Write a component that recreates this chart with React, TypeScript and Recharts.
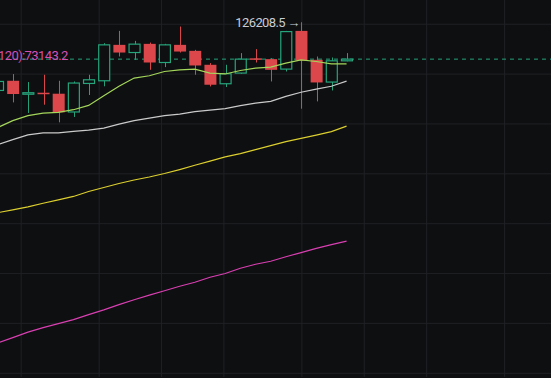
import { ComposedChart, Bar, Line, XAxis, YAxis, ReferenceLine, ReferenceDot } from 'recharts'

// weekly candles, BTC, log price scale
const weeks = [
  '2025-05-19', '2025-05-26', '2025-06-02', '2025-06-09', '2025-06-16', '2025-06-23', '2025-06-30',
  '2025-07-07', '2025-07-14', '2025-07-21', '2025-07-28', '2025-08-04', '2025-08-11', '2025-08-18',
  '2025-08-25', '2025-09-01', '2025-09-08', '2025-09-15', '2025-09-22', '2025-09-29', '2025-10-06',
  '2025-10-13', '2025-10-20', '2025-10-27', '2025-11-03', '2025-11-10', '2025-11-17', '2025-11-24',
  '2025-12-01', '2025-12-08', '2025-12-15', '2025-12-22', '2025-12-29', '2026-01-05', '2026-01-12',
  '2026-01-19', '2026-01-26',
]
const monthTicks = ['2025-06-02', '2025-07-07', '2025-08-04', '2025-09-01', '2025-10-06', '2025-11-03', '2025-12-01', '2026-01-05']
const priceTicks = [125580, 110900, 97940, 86490, 76380, 67450, 59570, 52600]

const opens = [106472, 109072, 105607, 105869, 105607, 100908, 108347, 109072, 119289, 117028, 119586, 114154, 119289, 117520, 113505, 108266, 111185, 115349, 115117, 112290, 123511, 114915, 108722, 114633]
const highs = [109615, 110911, 108722, 110718, 109072, 108884, 110718, 119794, 123511, 120477, 119972, 119586, 124860, 117808, 113986, 113505, 116854, 118016, 115407, 123511, 126208.5, 115872, 115583, 116854]
const lows = [105869, 103346, 100659, 102758, 98333, 99663, 105266, 107581, 115872, 114915, 112093, 112854, 117028, 110718, 107542, 107381, 110993, 114154, 108884, 111625, 101737, 103602, 106472, 114492]
const closes = [108884, 105528, 105869, 105607, 100809, 108454, 109340, 119289, 117028, 119497, 114154, 119289, 117317, 113308, 107998, 110993, 115117, 114915, 112093, 123298, 114718, 108615, 114633, 115117]

const ma5 = [97044, 98746, 99987, 100610, 100809, 101481, 102580, 105083, 107595, 109808, 110443, 111625, 112093, 112290, 111185, 110938, 111900, 112570, 112852, 113986, 114915, 114436, 113787, 113787]
const ma20 = [93031, 94186, 95302, 95776, 95776, 96155, 96440, 96922, 97896, 98746, 99363, 99987, 100361, 100983, 101353, 101737, 102503, 103142, 103602, 104901, 106000, 106843, 107595, 108991]
const ma60 = [78499, 79043, 79638, 80376, 81033, 81745, 82767, 83594, 84432, 85162, 85806, 86557, 87416, 88362, 89287, 90226, 90971, 91873, 92797, 93724, 94494, 95250, 96072, 97406]
const ma120 = [56719, 57498, 58291, 58946, 59537, 60128, 60884, 61611, 62417, 63193, 63909, 64626, 65355, 66008, 66833, 67455, 68344, 69030, 69545, 70328, 71075, 71830, 72497, 73143.2]

const lastPrice = 115117
const athPrice = 126208.5

const BG = '#0e0f11'
const GRID = '#1f2024'
const UP = '#26a47b'
const DOWN = '#dc474b'
const FONT = 'Roboto, sans-serif'
const W = 562.4
const H = 378
const DOMAIN = [52117, 133401]

const data = weeks.map((date, i) => ({
  date,
  open: opens[i],
  high: highs[i],
  low: lows[i],
  close: closes[i],
  ma5: ma5[i],
  ma20: ma20[i],
  ma60: ma60[i],
  ma120: ma120[i],
}))

function Candle(props: any) {
  const { x, y, width, height, payload } = props
  if (!payload || payload.high == null) return null
  const { open, close, high, low } = payload
  const up = close >= open
  const color = up ? UP : DOWN
  const top0 = Math.min(y, y + height)
  const h0 = Math.abs(height)
  const span = Math.log(high) - Math.log(low)
  const yOf = (v: number) => top0 + (h0 * (Math.log(high) - Math.log(v))) / span
  const cx = Math.round(x + width / 2) + 0.5
  const bTop = yOf(Math.max(open, close))
  const bBot = yOf(Math.min(open, close))
  const bh = Math.max(bBot - bTop, 1.5)
  return (
    <g>
      <line x1={cx} x2={cx} y1={top0} y2={top0 + h0} stroke={color} strokeWidth={1} />
      {up ? (
        <rect x={x + 0.5} y={bTop} width={width - 1} height={bh} fill={BG} stroke={color} strokeWidth={1.2} />
      ) : (
        <rect x={x} y={bTop} width={width} height={bh} fill={color} />
      )}
    </g>
  )
}

const maLine = (key: string, color: string) => (
  <Line
    key={key}
    dataKey={key}
    type="linear"
    stroke={color}
    strokeWidth={1.2}
    dot={false}
    activeDot={false}
    legendType="none"
    isAnimationActive={false}
  />
)

const layer: any = { position: 'absolute', left: -10.8, top: 0 }

export default function App() {
  return (
    <div style={{ position: 'fixed', left: 0, top: 0, width: 551, height: 378, background: BG, overflow: 'hidden', fontFamily: FONT }}>
      {/* grid + last price line underneath */}
      <div style={layer}>
        <ComposedChart width={W} height={H} data={data} margin={{ top: 0, right: 0, bottom: 0, left: 0 }}>
          <XAxis dataKey="date" ticks={monthTicks} interval={0} height={1} tick={false} axisLine={false} tickLine={false} />
          <YAxis scale="log" domain={DOMAIN} ticks={priceTicks} allowDataOverflow width={1} tick={false} axisLine={false} tickLine={false} />
          {priceTicks.map((v) => (
            <ReferenceLine key={`h${v}`} y={v} stroke={GRID} strokeWidth={1} />
          ))}
          {monthTicks.map((d) => (
            <ReferenceLine key={`v${d}`} x={d} stroke={GRID} strokeWidth={1} />
          ))}
          <ReferenceLine y={lastPrice} stroke={UP} strokeDasharray="4 4" strokeWidth={1} />
          <Line dataKey="close" stroke="none" dot={false} activeDot={false} isAnimationActive={false} />
        </ComposedChart>
      </div>
      <div style={layer}>
        <ComposedChart width={W} height={H} data={data} margin={{ top: 0, right: 0, bottom: 0, left: 0 }}>
          <XAxis dataKey="date" ticks={monthTicks} interval={0} height={1} tick={false} axisLine={false} tickLine={false} />
          <YAxis scale="log" domain={DOMAIN} ticks={priceTicks} allowDataOverflow width={1} tick={false} axisLine={false} tickLine={false} />
          <Bar dataKey={(d: any) => (d.high != null ? [d.low, d.high] : null)} barSize={12} shape={Candle} isAnimationActive={false} />
          {maLine('ma120', '#d83fb1')}
          {maLine('ma60', '#dccf30')}
          {maLine('ma20', '#cacaca')}
          {maLine('ma5', '#a3d65a')}
          <ReferenceDot
            x="2025-10-06"
            y={athPrice}
            r={0}
            stroke="none"
            fill="none"
            label={{ value: `${athPrice} →`, position: 'left', fill: '#c9cdd3', fontSize: 13, letterSpacing: -0.6, offset: 1 }}
          />
        </ComposedChart>
      </div>
      <svg width={551} height={378} style={{ position: 'absolute', left: 0, top: 0, pointerEvents: 'none' }}>
        <text x={67.7} y={60} textAnchor="end" fill="#d64fb5" fontSize={13} letterSpacing={-0.6} fontFamily={FONT}>
          MA(120):{ma120[ma120.length - 1]}
        </text>
      </svg>
    </div>
  )
}
